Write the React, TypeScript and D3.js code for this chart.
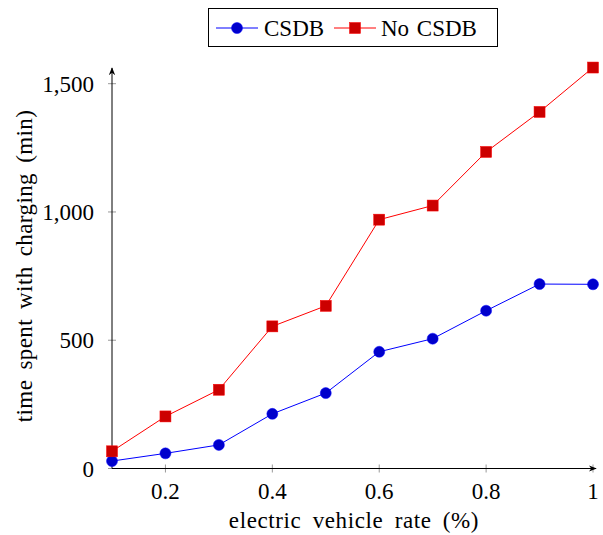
import React from "react";
import * as d3 from "d3";

const rates = [0.1, 0.2, 0.3, 0.4, 0.5, 0.6, 0.7, 0.8, 0.9, 1.0];
const csdb = [29, 59, 92, 213, 294, 455, 506, 615, 719, 718];
const noCsdb = [67, 203, 307, 554, 634, 970, 1025, 1234, 1390, 1563];
const xTicks = [0.2, 0.4, 0.6, 0.8, 1];
const yTicks = [0, 500, 1000, 1500];

const BLUE_LINE = "#0000ff";
const BLUE_MARK = "#0000cc";
const RED_LINE = "#ff0000";
const RED_MARK = "#cc0000";
const FONT = "Liberation Serif, Times New Roman, Times, Tinos, DejaVu Serif, serif";

const App = () => {
  const width = 603;
  const height = 535;

  const x = d3.scaleLinear().domain([0.1, 1]).range([112, 593]);
  const y = d3.scaleLinear().domain([0, 1500]).range([468.5, 83.7]);

  const line = d3.line<number>()
    .x((_, i) => x(rates[i]))
    .y(d => y(d));

  const fmt = d3.format(",");
  const axisY = y(0);
  const axisX = x(0.1);

  return (
    <svg width={width} height={height} style={{ position: "absolute", left: 0, top: 0 }}>
      <rect width={width} height={height} fill="white" />
      <defs>
        <marker id="arrow" viewBox="0 0 10 10" refX="9" refY="5" markerWidth="8" markerHeight="8" orient="auto">
          <path d="M0,1 L10,5 L0,9 L3,5 Z" fill="black" />
        </marker>
      </defs>

      {/* ticks */}
      {xTicks.map(t => (
        <line key={"xt" + t} x1={x(t)} x2={x(t)} y1={axisY - 4} y2={axisY + 4} stroke="#999" strokeWidth={1} />
      ))}
      {yTicks.map(t => (
        <line key={"yt" + t} x1={axisX - 4} x2={axisX + 4} y1={y(t)} y2={y(t)} stroke="#999" strokeWidth={1} />
      ))}

      {/* axes */}
      <line x1={axisX} x2={596} y1={axisY} y2={axisY} stroke="black" strokeWidth={1} markerEnd="url(#arrow)" />
      <line x1={axisX} x2={axisX} y1={axisY} y2={68} stroke="black" strokeWidth={1} markerEnd="url(#arrow)" />

      {/* tick labels */}
      {xTicks.map(t => (
        <text key={"xl" + t} x={x(t)} y={499} textAnchor="middle" fontFamily={FONT} fontSize={23}>
          {String(t)}
        </text>
      ))}
      {yTicks.map(t => (
        <text key={"yl" + t} x={94} y={y(t) + 8} textAnchor="end" fontFamily={FONT} fontSize={23}>
          {fmt(t)}
        </text>
      ))}

      {/* axis titles */}
      <text x={354} y={528} textAnchor="middle" fontFamily={FONT} fontSize={23} wordSpacing={5} letterSpacing={0.6}>
        electric vehicle rate (%)
      </text>
      <text transform="translate(32,266) rotate(-90)" textAnchor="middle" fontFamily={FONT} fontSize={23} wordSpacing={4} letterSpacing={0.4}>
        time spent with charging (min)
      </text>

      {/* series */}
      <path d={line(noCsdb) || ""} fill="none" stroke={RED_LINE} strokeWidth={1} />
      <path d={line(csdb) || ""} fill="none" stroke={BLUE_LINE} strokeWidth={1} />
      {csdb.map((v, i) => (
        <circle key={"c" + i} cx={x(rates[i])} cy={y(v)} r={5.5} fill={BLUE_MARK} stroke={BLUE_LINE} strokeWidth={0.5} />
      ))}
      {noCsdb.map((v, i) => (
        <rect key={"r" + i} x={x(rates[i]) - 5.5} y={y(v) - 5.5} width={11} height={11} fill={RED_MARK} stroke={RED_LINE} strokeWidth={0.5} />
      ))}

      {/* legend */}
      <rect x={208.5} y={8.5} width={289} height={38} fill="white" stroke="black" strokeWidth={1} />
      <line x1={216} x2={258} y1={28} y2={28} stroke={BLUE_LINE} strokeWidth={1} />
      <circle cx={237} cy={28} r={5.5} fill={BLUE_MARK} stroke={BLUE_LINE} strokeWidth={0.5} />
      <text x={264} y={35.5} fontFamily={FONT} fontSize={23}>CSDB</text>
      <line x1={334} x2={376} y1={28} y2={28} stroke={RED_LINE} strokeWidth={1} />
      <rect x={349.5} y={22.5} width={11} height={11} fill={RED_MARK} stroke={RED_LINE} strokeWidth={0.5} />
      <text x={381} y={35.5} fontFamily={FONT} fontSize={23} wordSpacing={2}>No CSDB</text>
    </svg>
  );
};

export default App;
